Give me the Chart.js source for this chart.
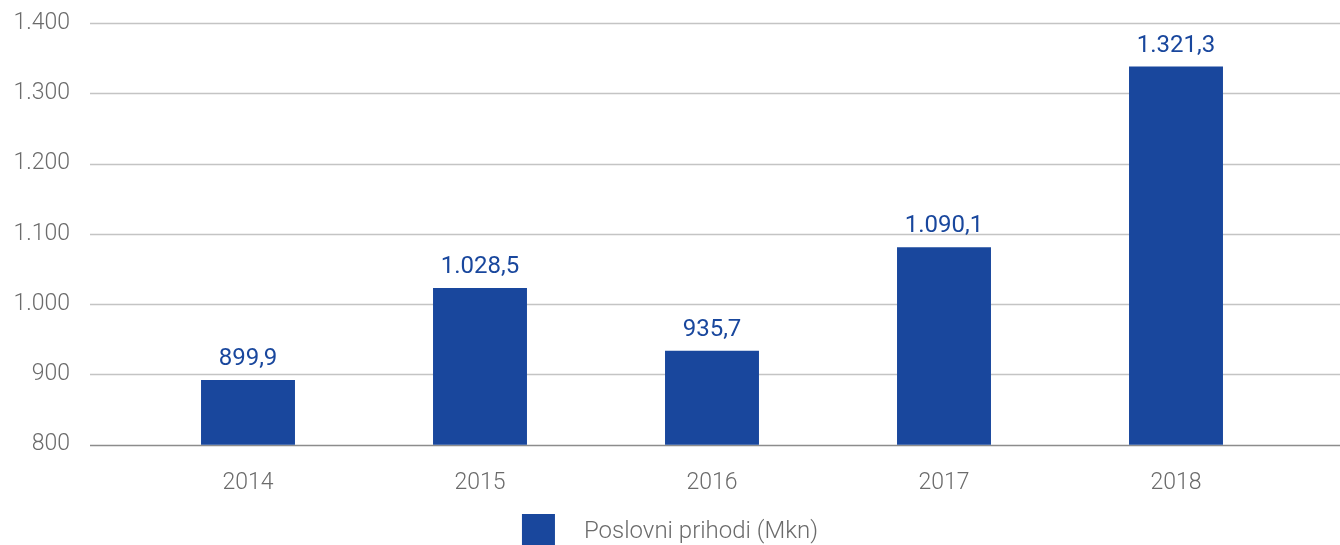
<!DOCTYPE html>
<html>
<head>
<meta charset="utf-8">
<script src="https://cdn.jsdelivr.net/npm/chart.js@4.4.1/dist/chart.umd.min.js"></script>
<style>
  html, body { margin: 0; padding: 0; background: #fff; overflow: hidden; }
  #wrap { width: 1340px; height: 545px; }
</style>
</head>
<body>
<div id="wrap"><canvas id="prihodiChart" width="1340" height="545"></canvas></div>
<script>
const years = ["2014", "2015", "2016", "2017", "2018"];
// visina stupaca kako je očitana sa slike
const barValues = [892, 1023, 933.5, 1081, 1338];
// vrijednosti ispisane iznad stupaca
const valueLabels = ["899,9", "1.028,5", "935,7", "1.090,1", "1.321,3"];
const seriesName = "Poslovni prihodi (Mkn)";
const yTicks = [800, 900, 1000, 1100, 1200, 1300, 1400];

const blue = "#19479d";
const grey = "#6b6b6b";
const fontFamily = "Roboto, 'Noto Sans', sans-serif";

function formatThousands(v) {
  if (v < 1000) return String(v);
  return Math.floor(v / 1000) + "." + String(v % 1000).padStart(3, "0");
}

// horizontalne linije preko cijele širine (od 90px do ruba)
const gridPlugin = {
  id: "fullGrid",
  beforeDatasetsDraw(chart) {
    const ctx = chart.ctx;
    const y = chart.scales.y;
    ctx.save();
    yTicks.forEach((v, i) => {
      const py = Math.round(y.getPixelForValue(v)) + 0.5;
      ctx.beginPath();
      ctx.strokeStyle = i === 0 ? "#8c8c8c" : "#c4c4c4";
      ctx.lineWidth = 1.3;
      ctx.moveTo(90, py);
      ctx.lineTo(chart.width, py);
      ctx.stroke();
    });
    ctx.restore();
  },
};

const valuePlugin = {
  id: "valueLabels",
  afterDatasetsDraw(chart) {
    const ctx = chart.ctx;
    const meta = chart.getDatasetMeta(0);
    ctx.save();
    ctx.font = "400 24px " + fontFamily;
    ctx.fillStyle = blue;
    ctx.textAlign = "center";
    ctx.textBaseline = "alphabetic";
    meta.data.forEach((bar, i) => {
      ctx.fillText(valueLabels[i], bar.x, bar.y - 15);
    });
    ctx.restore();
  },
};

const legendPlugin = {
  id: "bottomLegend",
  afterDraw(chart) {
    const ctx = chart.ctx;
    ctx.save();
    ctx.font = "300 24px " + fontFamily;
    const textW = ctx.measureText(seriesName).width;
    const boxW = 33, gap = 29;
    const startX = chart.width / 2 - (boxW + gap + textW) / 2;
    ctx.fillStyle = blue;
    ctx.fillRect(startX, 514, boxW, 31);
    ctx.fillStyle = grey;
    ctx.textBaseline = "middle";
    ctx.fillText(seriesName, startX + boxW + gap, 532);
    ctx.restore();
  },
};

new Chart(document.getElementById("prihodiChart"), {
  type: "bar",
  data: {
    labels: years,
    datasets: [
      {
        label: seriesName,
        data: barValues,
        backgroundColor: blue,
        barPercentage: 0.405,
        categoryPercentage: 1,
      },
    ],
  },
  options: {
    responsive: false,
    animation: false,
    layout: { padding: { top: 23, right: 48, bottom: 0, left: 0 } },
    plugins: {
      legend: { display: false },
      tooltip: { enabled: false },
    },
    scales: {
      x: {
        grid: { display: false },
        border: { display: false },
        ticks: {
          color: grey,
          font: { family: fontFamily, size: 23, weight: 300 },
          padding: 17,
        },
        afterFit: (s) => { s.height = 100.3; },
      },
      y: {
        min: 800,
        max: 1400,
        grid: { display: false, tickLength: 62 },
        border: { display: false },
        afterBuildTicks: (s) => { s.ticks = yTicks.map((v) => ({ value: v })); },
        afterFit: (s) => { s.width = 132; },
        ticks: {
          color: grey,
          font: { family: fontFamily, size: 23, weight: 300 },
          padding: 0,
          callback: (v) => formatThousands(v),
        },
      },
    },
  },
  plugins: [gridPlugin, valuePlugin, legendPlugin],
});
</script>
</body>
</html>
